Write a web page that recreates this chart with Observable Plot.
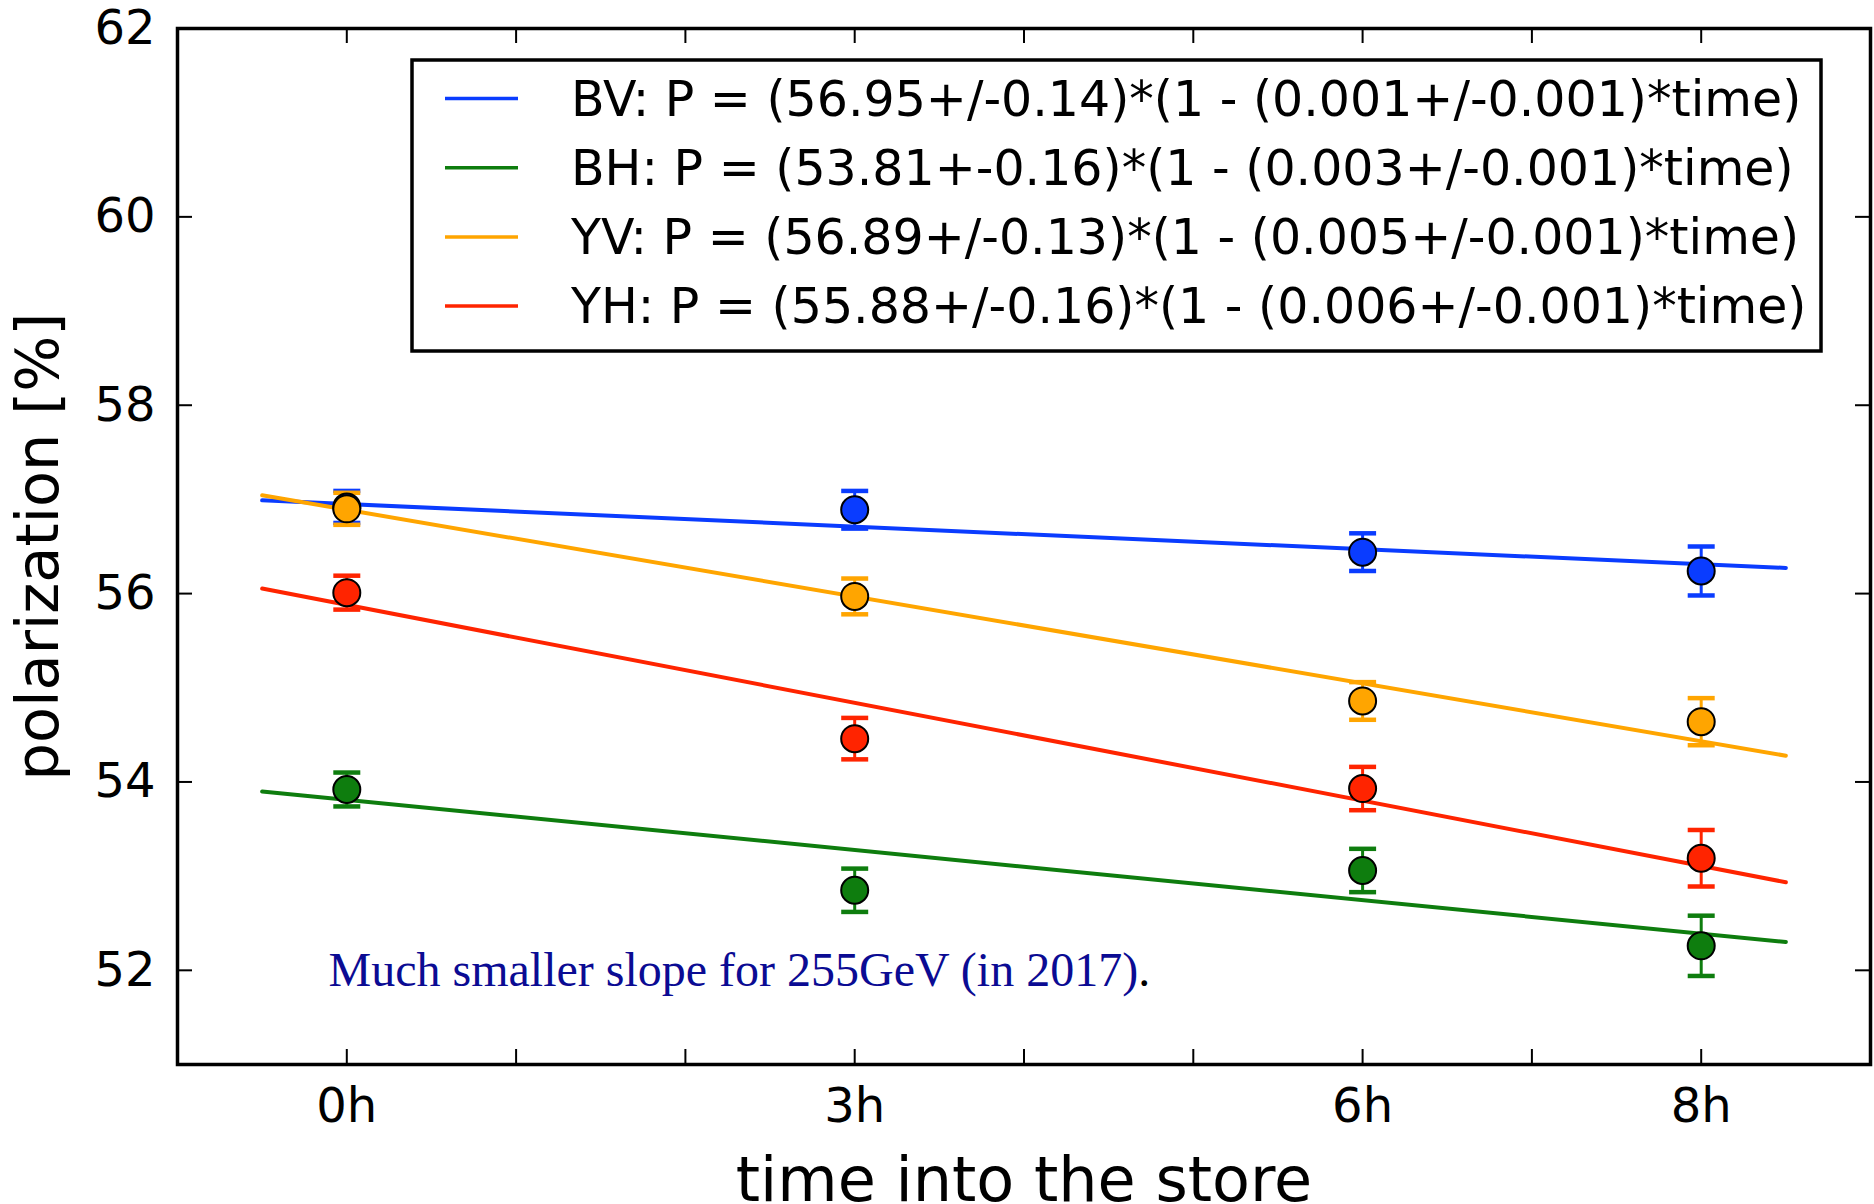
<!DOCTYPE html>
<html>
<head>
<meta charset="utf-8">
<script src="https://cdn.jsdelivr.net/npm/d3@7"></script>
<script src="https://cdn.jsdelivr.net/npm/@observablehq/plot@0.6"></script>
<style>
  html, body { margin: 0; padding: 0; background: #fff; color: #000; }
  #chart { width: 1874px; height: 1204px; overflow: hidden; }
</style>
</head>
<body>
<div id="chart"></div>
<script>
// Measurement times (hours into the store) and axis ticks
const times = [0, 3, 6, 8];
const timeTicks = [0, 1, 2, 3, 4, 5, 6, 7, 8];
const timeLabels = [0, 3, 6, 8];
const polTicks = [52, 54, 56, 58, 60, 62];

// Polarimeter series: blue/yellow ring, vertical/horizontal
const seriesNames = ["BV", "BH", "YV", "YH"];
const seriesColors = ["#0a3cff", "#0e7d0e", "#ffa500", "#ff2400"];

// Measured polarization [%] and its uncertainty at each time
const bvValues = [56.92, 56.89, 56.44, 56.24];
const bvErrors = [0.17, 0.20, 0.20, 0.26];
const bhValues = [53.92, 52.85, 53.06, 52.26];
const bhErrors = [0.18, 0.23, 0.23, 0.32];
const yvValues = [56.90, 55.97, 54.86, 54.64];
const yvErrors = [0.17, 0.19, 0.20, 0.25];
const yhValues = [56.01, 54.46, 53.93, 53.19];
const yhErrors = [0.18, 0.22, 0.23, 0.30];

// Fit P = A * (1 - b * time)
const fitAmp = [56.95, 53.81, 56.89, 55.88];
const fitAmpErr = [0.14, 0.16, 0.13, 0.16];
const fitSlope = [0.0014, 0.0033, 0.0054, 0.0062];
const fitSlopeErr = [0.001, 0.001, 0.001, 0.001];
const ampSeparator = ["+/-", "+-", "+/-", "+/-"];
const fitSpan = [-0.5, 8.5];

const noteText = "Much smaller slope for 255GeV (in 2017)";
const notePos = {t: -0.105, p: 51.83};

const allValues = [bvValues, bhValues, yvValues, yhValues];
const allErrors = [bvErrors, bhErrors, yvErrors, yhErrors];

const points = seriesNames.flatMap((s, i) =>
  times.map((t, j) => ({series: s, color: seriesColors[i], t, p: allValues[i][j], e: allErrors[i][j]}))
);
const fitLines = seriesNames.flatMap((s, i) =>
  fitSpan.map(t => ({series: s, color: seriesColors[i], t, p: fitAmp[i] * (1 - fitSlope[i] * t)}))
);

// horizontal bar used for error-bar caps
const capSymbol = {
  draw(context, size) {
    const r = Math.sqrt(size / Math.PI);
    context.moveTo(-r, 0);
    context.lineTo(r, 0);
  }
};

const W = 1874, H = 1204;
const mL = 177, mR = 4, mT = 28, mB = 140;
const frameW = W - mL - mR, frameH = H - mT - mB;
const tickLen = 15;

const chart = Plot.plot({
  width: W,
  height: H,
  marginLeft: mL,
  marginRight: mR,
  marginTop: mT,
  marginBottom: mB,
  style: {fontFamily: "DejaVu Sans", fontSize: "48px", background: "#fff", color: "#000", overflow: "visible"},
  x: {domain: [-1, 9]},
  y: {domain: [51, 62]},
  color: {type: "identity"},
  marks: [
    Plot.line(fitLines, {x: "t", y: "p", z: "series", stroke: "color", strokeWidth: 4}),
    Plot.ruleX(points, {x: "t", y1: d => d.p - d.e, y2: d => d.p + d.e, stroke: "color", strokeWidth: 3}),
    Plot.dot(points, {x: "t", y: d => d.p - d.e, symbol: capSymbol, r: 13.5, stroke: "color", strokeWidth: 4.5}),
    Plot.dot(points, {x: "t", y: d => d.p + d.e, symbol: capSymbol, r: 13.5, stroke: "color", strokeWidth: 4.5}),
    Plot.dot(points, {x: "t", y: "p", r: 13.5, fill: "color", stroke: "#000", strokeWidth: 2}),
    Plot.frame({stroke: "#000", strokeWidth: 3.5}),
    // inward ticks on all four sides
    Plot.tickX(timeTicks, {x: d => d, insetTop: frameH - tickLen, stroke: "#000", strokeWidth: 2}),
    Plot.tickX(timeTicks, {x: d => d, insetBottom: frameH - tickLen, stroke: "#000", strokeWidth: 2}),
    Plot.tickY(polTicks, {y: d => d, insetRight: frameW - tickLen, stroke: "#000", strokeWidth: 2}),
    Plot.tickY(polTicks, {y: d => d, insetLeft: frameW - tickLen, stroke: "#000", strokeWidth: 2}),
    Plot.axisX(timeLabels, {tickFormat: d => d + "h", tickSize: 0, tickPadding: 23, fontSize: 48, label: null}),
    Plot.axisY(polTicks, {tickFormat: d => String(d), tickSize: 0, tickPadding: 22, fontSize: 48, label: null}),
    Plot.text(["time into the store"], {frameAnchor: "bottom", dy: 136, text: d => d, fontSize: 62, lineAnchor: "bottom", textAnchor: "middle"}),
    Plot.text(["polarization [%]"], {frameAnchor: "left", dx: -120, rotate: -90, text: d => d, fontSize: 59, lineAnchor: "bottom", textAnchor: "middle"})
  ]
});

document.getElementById("chart").appendChild(chart);

const svg = d3.select(chart);
const xs = chart.scale("x"), ys = chart.scale("y");

// annotation: blue sentence, black full stop
const note = svg.append("text")
  .attr("x", xs.apply(notePos.t))
  .attr("y", ys.apply(notePos.p))
  .attr("text-anchor", "start")
  .attr("font-family", "Liberation Serif, Times New Roman, serif")
  .attr("font-size", 48);
note.append("tspan").attr("fill", "#0b0b93").text(noteText);
note.append("tspan").attr("fill", "#000").text(".");

// legend box with fit results
const leg = {x: 412, y: 60, w: 1409, h: 291, row0: 38.5, rowStep: 69.2};
const g = svg.append("g").attr("text-anchor", "start");
g.append("rect")
  .attr("x", leg.x).attr("y", leg.y).attr("width", leg.w).attr("height", leg.h)
  .attr("fill", "#fff").attr("stroke", "#000").attr("stroke-width", 3.5);
seriesNames.forEach((s, i) => {
  const cy = leg.y + leg.row0 + i * leg.rowStep;
  g.append("line")
    .attr("x1", leg.x + 33).attr("x2", leg.x + 106)
    .attr("y1", cy).attr("y2", cy)
    .attr("stroke", seriesColors[i]).attr("stroke-width", 3.5);
  const label = `${s}: P = (${fitAmp[i].toFixed(2)}${ampSeparator[i]}${fitAmpErr[i].toFixed(2)})*(1 - (${fitSlope[i].toFixed(3)}+/-${fitSlopeErr[i].toFixed(3)})*time)`;
  g.append("text")
    .attr("x", leg.x + 159).attr("y", cy + 17)
    .attr("text-anchor", "start")
    .attr("font-family", "DejaVu Sans").attr("font-size", 49).attr("fill", "#000")
    .text(label);
});
</script>
</body>
</html>
